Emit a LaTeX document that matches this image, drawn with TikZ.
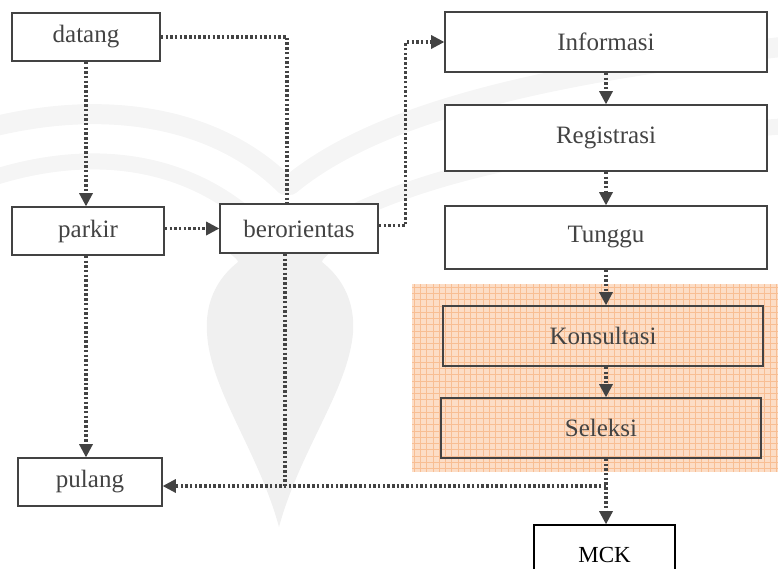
\documentclass[tikz,border=0pt]{standalone}
\usepackage{fontspec}
\setmainfont{Liberation Serif}
\usetikzlibrary{arrows.meta,calc}

\definecolor{inkgray}{HTML}{434343}
\definecolor{markgray}{HTML}{F0F0F0}
\definecolor{bandgray}{HTML}{F5F5F5}
\definecolor{peach}{HTML}{FCDDC6}
\definecolor{peachline}{HTML}{F8BE93}

\tikzset{
  stepbox/.style={draw=inkgray, line width=1.7pt, fill=white, text=inkgray,
    font=\fontsize{25}{29}\selectfont, inner sep=0pt, anchor=center},
  openbox/.style={stepbox, fill=none},
  flow/.style={draw=inkgray, line width=3.2pt, dash pattern=on 2.5pt off 2.2pt},
  flowarrow/.style={flow, -{Triangle[width=14pt,length=13pt,line width=0pt]}},
  markband/.style={draw=bandgray, line width=20pt, line cap=round},
}

\begin{document}
\begin{tikzpicture}[x=1pt, y=-1pt]
  \useasboundingbox (0,0) rectangle (778,568);

  % faint logo in the background: open pages and a flame
  \begin{scope}
    \clip (0,0) rectangle (778,568);
    \draw[markband] (-20,130) .. controls (110,95) and (220,120) .. (285,185);
    \draw[markband, line width=16pt] (-20,182) .. controls (100,140) and (200,165) .. (265,232);
    \draw[markband] (290,185) .. controls (380,110) and (560,70) .. (800,45);
    \draw[markband, line width=16pt] (320,230) .. controls (430,165) and (600,140) .. (800,125);
  \end{scope}
  \fill[markgray] (223,245) -- (335,245)
     .. controls (333,252) and (322,258) .. (322,262)
     .. controls (345,280) and (355,305) .. (353,333)
     .. controls (348,390) and (300,450) .. (279,527)
     .. controls (258,450) and (210,390) .. (207,333)
     .. controls (205,305) and (215,280) .. (238,262)
     .. controls (238,258) and (225,252) .. (223,245) -- cycle;

  % highlighted area with a fine grid
  \fill[peach] (412,284) rectangle (778,472);
  \begin{scope}
    \clip (412,284) rectangle (778,472);
    \foreach \gx in {0,...,59} {
      \draw[peachline, line width=0.5pt] (414+\gx*6.25,284) -- (414+\gx*6.25,472);
    }
    \foreach \gy in {0,...,30} {
      \draw[peachline, line width=0.5pt] (412,287+\gy*6.25) -- (778,287+\gy*6.25);
    }
  \end{scope}

  % left column
  \node[stepbox, minimum width=148pt, minimum height=48pt] (datang) at (86,37) {datang};
  \node[stepbox, minimum width=152pt, minimum height=48pt] (parkir) at (88,231) {parkir};
  \node[stepbox, minimum width=144pt, minimum height=48pt] (pulang) at (90,482) {pulang};
  \node[stepbox, minimum width=158pt, minimum height=49pt] (berorientas) at (299,228.5) {berorientas};

  % right column
  \node[stepbox, minimum width=322pt, minimum height=60pt] (Informasi) at (606,42) {Informasi};
  \node[stepbox, minimum width=322pt, minimum height=66pt] (Registrasi) at (606,138) {Registrasi};
  \node[stepbox, minimum width=322pt, minimum height=63pt] (Tunggu) at (606,237.5) {Tunggu};
  \node[openbox, minimum width=320pt, minimum height=60pt] (Konsultasi) at (603,336) {Konsultasi};
  \node[openbox, minimum width=320pt, minimum height=60pt] (Seleksi) at (601,428) {Seleksi};
  \node[stepbox, draw=black, text=black, minimum width=141pt, minimum height=60pt,
        font=\fontsize{23}{27}\selectfont] (MCK) at (604.5,555) {MCK};

  % junction points of the connectors
  \coordinate (topbend) at ($(berorientas.north)+(-12,0)$);
  \coordinate (sidebend) at ($(berorientas.east)+(27,-3)$);
  \coordinate (exitjoin) at (606,486);
  \coordinate (exitdrop) at ($(berorientas.south)+(-14,0)$);

  % connectors
  \draw[flow] (datang.east) -| (topbend);
  \draw[flowarrow] (datang.south) -- (datang.south |- parkir.north);
  \draw[flowarrow] (parkir.east |- berorientas.west) -- (berorientas.west);
  \draw[flowarrow] (berorientas.east |- sidebend) -- (sidebend) |- (Informasi.west);
  \draw[flowarrow] (datang.south |- parkir.south) -- (datang.south |- pulang.north);

  \draw[flowarrow] (Informasi.south) -- (Registrasi.north);
  \draw[flowarrow] (Registrasi.south) -- (Tunggu.north);
  \draw[flowarrow] (Tunggu.south) -- (Tunggu.south |- Konsultasi.north);
  \draw[flowarrow] (Tunggu.south |- Konsultasi.south) -- (Tunggu.south |- Seleksi.north);
  \draw[flowarrow] (Tunggu.south |- Seleksi.south) -- (Tunggu.south |- MCK.north);

  \draw[flow] (exitdrop) -- (exitdrop |- exitjoin);
  \draw[flowarrow] (exitjoin) -- (pulang.east |- exitjoin);
\end{tikzpicture}
\end{document}
